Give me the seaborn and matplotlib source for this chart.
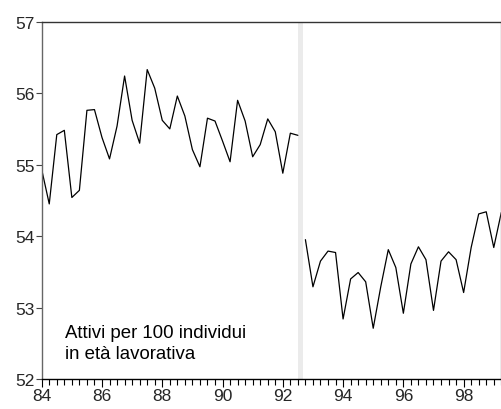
import numpy as np
import pandas as pd
import matplotlib
matplotlib.use("Agg")
import matplotlib.pyplot as plt
import seaborn as sns
from matplotlib.ticker import MultipleLocator, FixedLocator

sns.set_style("white")
plt.rcParams['font.family'] = ['Liberation Sans', 'DejaVu Sans']

# Quarterly series, 1984Q1 - 1992Q3 (old survey)
old_values = [54.93, 54.45, 55.42, 55.48,
              54.54, 54.64, 55.76, 55.77,
              55.38, 55.08, 55.54, 56.24,
              55.62, 55.30, 56.33, 56.07,
              55.62, 55.50, 55.96, 55.68,
              55.21, 54.97, 55.65, 55.61,
              55.33, 55.04, 55.90, 55.61,
              55.11, 55.28, 55.64, 55.46,
              54.88, 55.44, 55.41]
old_start = 84.0

# Quarterly series, 1992Q4 - 1999Q2 (new survey)
new_values = [53.95,
              53.29, 53.65, 53.79, 53.77,
              52.84, 53.40, 53.49, 53.36,
              52.71, 53.29, 53.81, 53.56,
              52.92, 53.61, 53.85, 53.67,
              52.96, 53.65, 53.78, 53.67,
              53.21, 53.84, 54.31, 54.34,
              53.84, 54.33]
new_start = 92.75

year_ticks = [84, 86, 88, 90, 92, 94, 96, 98]
y_ticks = [52, 53, 54, 55, 56, 57]
label_text = "Attivi per 100 individui\nin età lavorativa"

df_old = pd.DataFrame({"t": old_start + np.arange(len(old_values)) / 4.0, "v": old_values})
df_new = pd.DataFrame({"t": new_start + np.arange(len(new_values)) / 4.0, "v": new_values})

fig = plt.figure(figsize=(5.02, 4.10), dpi=100)
ax = fig.add_axes([0.0831, 0.0732, 0.9155, 0.8714])

ax.axvspan(92.51, 92.66, color="#ebebeb", lw=0, zorder=0)
sns.lineplot(data=df_old, x="t", y="v", ax=ax, color="black", lw=0.9)
sns.lineplot(data=df_new, x="t", y="v", ax=ax, color="black", lw=0.9)

ax.set_xlim(84, 99.25)
ax.set_ylim(52, 57)
ax.set_xlabel("")
ax.set_ylabel("")

ax.xaxis.set_major_locator(FixedLocator(year_ticks))
ax.xaxis.set_minor_locator(MultipleLocator(0.25))
ax.set_xticklabels([str(y) for y in year_ticks])
ax.yaxis.set_major_locator(FixedLocator(y_ticks))

ax.tick_params(axis="x", which="major", direction="out", length=6, width=0.8,
               labelsize=12.5, pad=0.5, color="black", bottom=True)
ax.tick_params(axis="x", which="minor", direction="out", length=4, width=0.8,
               color="black", bottom=True)
ax.tick_params(axis="y", which="major", direction="out", length=4, width=0.8,
               labelsize=12.5, pad=1, color="#444444", left=True)

for side in ["top", "right", "left", "bottom"]:
    ax.spines[side].set_visible(True)
    ax.spines[side].set_linewidth(1.0)
ax.spines["top"].set_color("#333333")
ax.spines["left"].set_color("#666666")
ax.spines["right"].set_color("#999999")
ax.spines["bottom"].set_color("black")

ax.text(84.77, 52.30, label_text, fontsize=13.4, va="baseline", ha="left",
        linespacing=1.25, color="black")

fig.savefig("out.png", dpi=100)
